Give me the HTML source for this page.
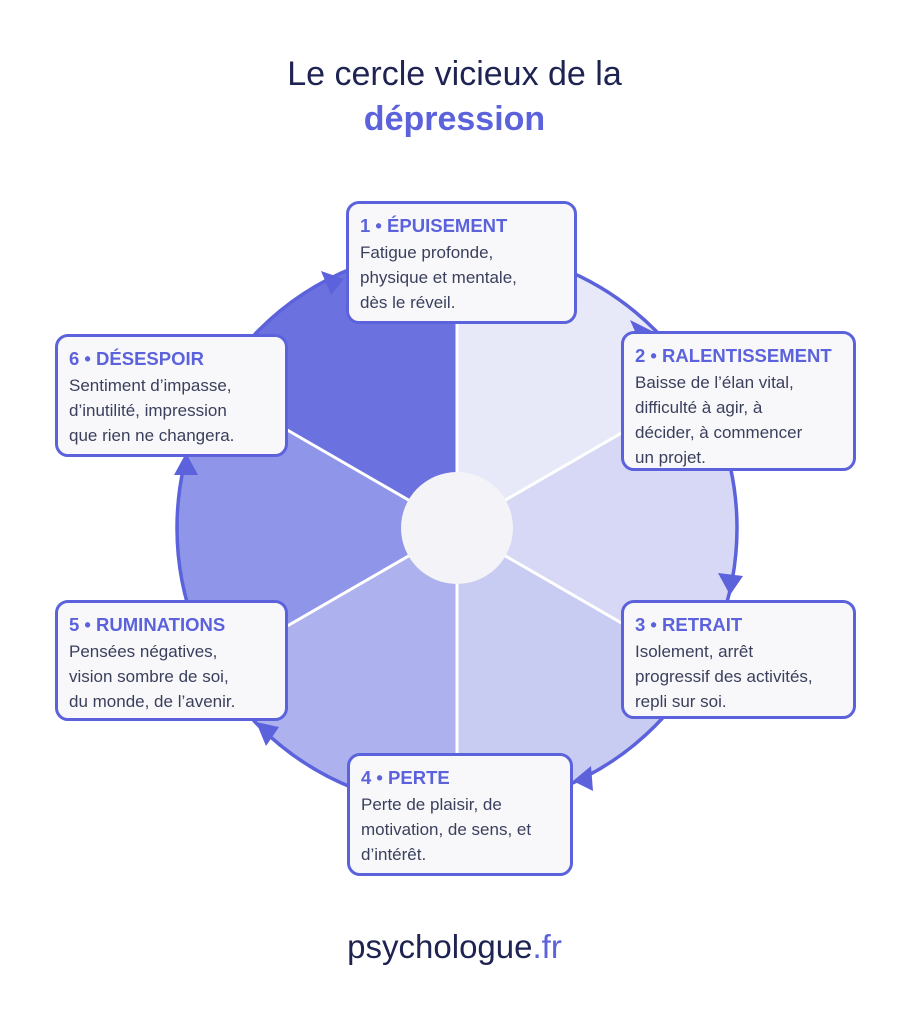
<!DOCTYPE html>
<html><head><meta charset="utf-8"><style>
body{margin:0;width:909px;height:1024px;background:#fff;font-family:"Liberation Sans",sans-serif;position:relative;overflow:hidden}
.t{position:absolute;width:909px;text-align:center;font-size:34px;color:#1e2352}
.box{position:absolute;box-sizing:border-box;border:3px solid #5b62dc;border-radius:13px;background:#f8f8fa;padding:10px 0 0 11px;font-size:17px;line-height:25px;color:#3a3f5c}
.box b{display:block;color:#5b62dc;font-size:18.5px;line-height:24px;margin-bottom:2px}
</style></head><body>
<div class="t" style="top:55px">Le cercle vicieux de la</div>
<div class="t" style="top:100px;color:#5b62dc;font-weight:bold">dépression</div>
<svg width="909" height="1024" style="position:absolute;left:0;top:0">
<g transform="translate(457,528)">
<path d="M0,0 L0,-280 A280,280 0 0 1 242.5,-140 Z" fill="#e8e9f8"/>
<path d="M0,0 L242.5,-140 A280,280 0 0 1 242.5,140 Z" fill="#d6d8f5"/>
<path d="M0,0 L242.5,140 A280,280 0 0 1 0,280 Z" fill="#c8cbf2"/>
<path d="M0,0 L0,280 A280,280 0 0 1 -242.5,140 Z" fill="#adb1ee"/>
<path d="M0,0 L-242.5,140 A280,280 0 0 1 -242.5,-140 Z" fill="#8f95e8"/>
<path d="M0,0 L-242.5,-140 A280,280 0 0 1 0,-280 Z" fill="#6b72e0"/>
<g stroke="#fff" stroke-width="3">
<line x1="0" y1="0" x2="0" y2="-280"/><line x1="0" y1="0" x2="242.5" y2="-140"/><line x1="0" y1="0" x2="242.5" y2="140"/>
<line x1="0" y1="0" x2="0" y2="280"/><line x1="0" y1="0" x2="-242.5" y2="140"/><line x1="0" y1="0" x2="-242.5" y2="-140"/></g>
<circle r="280" fill="none" stroke="#5b62dc" stroke-width="3.5"/>
<circle r="56" fill="#f4f4f8"/>
</g>
<g fill="#5b62dc">
<polygon points="344,279 321,271 331,295"/>
<polygon points="652,331 630,320 640,343"/>
<polygon points="730,595 718,573 743,576"/>
<polygon points="573,781 591,766 593,791"/>
<polygon points="256,722 279,727 266,746"/>
<polygon points="186,453 174,475 198,475"/>
</g>
</svg>
<div class="box" style="left:346px;top:201px;width:231px;height:123px"><b>1 • ÉPUISEMENT</b>Fatigue profonde,<br>physique et mentale,<br>dès le réveil.</div>
<div class="box" style="left:621px;top:331px;width:235px;height:140px"><b>2 • RALENTISSEMENT</b>Baisse de l’élan vital,<br>difficulté à agir, à<br>décider, à commencer<br>un projet.</div>
<div class="box" style="left:621px;top:600px;width:235px;height:119px"><b>3 • RETRAIT</b>Isolement, arrêt<br>progressif des activités,<br>repli sur soi.</div>
<div class="box" style="left:347px;top:753px;width:226px;height:123px"><b>4 • PERTE</b>Perte de plaisir, de<br>motivation, de sens, et<br>d’intérêt.</div>
<div class="box" style="left:55px;top:600px;width:233px;height:121px"><b>5 • RUMINATIONS</b>Pensées négatives,<br>vision sombre de soi,<br>du monde, de l’avenir.</div>
<div class="box" style="left:55px;top:334px;width:233px;height:123px"><b>6 • DÉSESPOIR</b>Sentiment d’impasse,<br>d’inutilité, impression<br>que rien ne changera.</div>
<div class="t" style="top:928px;font-size:33px;color:#1e2352">psychologue<span style="color:#5b62dc">.fr</span></div>
</body></html>
